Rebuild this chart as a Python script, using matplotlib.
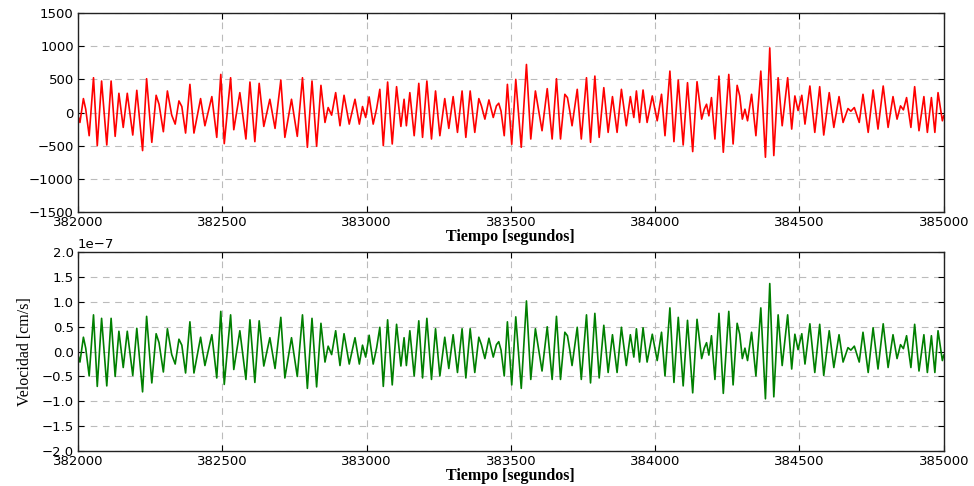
import numpy as np
import matplotlib
matplotlib.use("Agg")
import matplotlib.pyplot as plt

# ---- data (extrema of the waveform) ----
tiempo_1 = [382001, 382007, 382019, 382027, 382039, 382054, 382067, 382082, 382100, 382115, 382129, 382142,
            382157, 382171, 382190, 382204, 382224, 382238, 382256, 382271, 382281, 382296, 382310, 382325,
            382337, 382350, 382360, 382373, 382388, 382402, 382425, 382440, 382464, 382481, 382495, 382507]
senal_1 = [-60, -150, 210, 50, -350, 525, -500, 475, -490, 475, -360, 290, -225, 290, -340, 335, -575, 510,
           -450, 260, 125, -290, 325, -40, -175, 175, 90, -310, 425, -310, 210, -200, 240, -375, 575, -470]
veloc_1 = [-0.08, -0.21, 0.29, 0.07, -0.49, 0.74, -0.70, 0.67, -0.69, 0.67, -0.50, 0.41, -0.32, 0.41, -0.48,
           0.47, -0.81, 0.71, -0.63, 0.36, 0.18, -0.41, 0.46, -0.06, -0.25, 0.25, 0.13, -0.43, 0.60, -0.43,
           0.29, -0.28, 0.34, -0.53, 0.81, -0.66]

tiempo_2 = [382529, 382540, 382561, 382582, 382596, 382613, 382628, 382644, 382665, 382683, 382703, 382717,
            382740, 382760, 382778, 382795, 382811, 382827, 382842, 382856, 382867, 382879, 382893, 382908,
            382922, 382940, 382960, 382975, 382986, 382997, 383009]
senal_2 = [525, -260, 300, -400, 460, -440, 440, -210, 200, -240, 490, -375, 200, -360, 525, -525, 475, -510,
           410, -150, 75, -40, 300, -200, 260, -175, 200, -175, 90, -75, 235]
veloc_2 = [0.74, -0.36, 0.42, -0.56, 0.64, -0.62, 0.62, -0.29, 0.28, -0.34, 0.69, -0.53, 0.28, -0.50, 0.74,
           -0.74, 0.67, -0.71, 0.57, -0.21, 0.11, -0.06, 0.42, -0.28, 0.36, -0.25, 0.28, -0.25, 0.13, -0.11, 0.33]

tiempo_3 = [383023, 383035, 383046, 383058, 383073, 383089, 383104, 383119, 383130, 383138, 383150, 383165,
            383181, 383194, 383209, 383225, 383239, 383254, 383271, 383285, 383300, 383315, 383331, 383344,
            383359, 383375, 383389, 383398, 383410, 383424, 383439, 383450, 383458, 383466, 383477, 383488, 383503]
senal_3 = [-175, 60, 350, -500, 460, -475, 390, -210, 200, -200, 300, -350, 440, -375, 475, -400, 325, -350,
           210, -240, 240, -300, 325, -375, 325, -300, 210, 100, -100, 190, -75, 100, 140, 20, -350, 425, -480]
veloc_3 = [-0.25, 0.08, 0.49, -0.70, 0.64, -0.67, 0.55, -0.29, 0.28, -0.28, 0.42, -0.49, 0.62, -0.53, 0.67,
           -0.56, 0.46, -0.49, 0.29, -0.34, 0.34, -0.42, 0.46, -0.53, 0.46, -0.42, 0.29, 0.14, -0.14, 0.27,
           -0.11, 0.14, 0.20, 0.03, -0.49, 0.60, -0.67]

tiempo_4 = [383517, 383536, 383554, 383569, 383585, 383608, 383626, 383643, 383658, 383672, 383687, 383696,
            383704, 383712, 383730, 383744, 383762, 383776, 383791, 383806, 383822, 383837, 383852, 383868,
            383883, 383900, 383914, 383926, 383935, 383946, 383958, 383972, 383990, 384007]
senal_4 = [500, -525, 725, -400, 325, -275, 360, -400, 510, -400, 275, 225, 25, -200, 350, -400, 525, -450,
           550, -375, 375, -300, 240, -300, 350, -200, 240, -75, 325, -150, 340, -150, 250, -125]
veloc_4 = [0.70, -0.74, 1.02, -0.56, 0.46, -0.39, 0.50, -0.56, 0.71, -0.56, 0.39, 0.32, 0.04, -0.28, 0.49,
           -0.56, 0.74, -0.63, 0.77, -0.53, 0.53, -0.42, 0.34, -0.42, 0.49, -0.28, 0.34, -0.11, 0.46, -0.21,
           0.48, -0.21, 0.35, -0.18]

tiempo_5 = [384022, 384034, 384051, 384065, 384080, 384097, 384112, 384130, 384145, 384161, 384170, 384178,
            384186, 384195, 384207, 384221, 384236, 384255, 384270, 384284, 384293, 384302, 384311, 384320,
            384334, 384349, 384366, 384382, 384397, 384411, 384426, 384440, 384459, 384473, 384484, 384495,
            384508, 384519]
senal_5 = [275, -350, 625, -440, 490, -490, 450, -590, 465, -100, 50, 125, -50, 225, -400, 550, -600, 575,
           -475, 410, 250, -100, 50, -125, 275, -350, 625, -675, 975, -650, 525, -200, 525, -250, 250, 30,
           260, -175]
veloc_5 = [0.39, -0.49, 0.88, -0.62, 0.69, -0.69, 0.63, -0.83, 0.65, -0.14, 0.07, 0.18, -0.07, 0.32, -0.56,
           0.77, -0.84, 0.81, -0.67, 0.57, 0.35, -0.14, 0.07, -0.18, 0.39, -0.49, 0.88, -0.95, 1.37, -0.91,
           0.74, -0.28, 0.74, -0.35, 0.35, 0.04, 0.36, -0.25]

tiempo_6 = [384536, 384553, 384570, 384584, 384603, 384619, 384637, 384651, 384668, 384678, 384690, 384707,
            384720, 384738, 384755, 384772, 384790, 384807, 384824, 384838, 384850, 384860, 384871, 384886,
            384899, 384914, 384931, 384943, 384957, 384969, 384980, 384995, 385000]
senal_6 = [400, -300, 390, -340, 300, -225, 240, -150, 60, 20, 75, -150, 275, -300, 340, -250, 400, -225,
           240, -100, 100, 40, 225, -225, 390, -275, 240, -300, 225, -300, 300, -125, -50]
veloc_6 = [0.56, -0.42, 0.55, -0.48, 0.42, -0.32, 0.34, -0.21, 0.08, 0.03, 0.11, -0.21, 0.39, -0.42, 0.48,
           -0.35, 0.56, -0.32, 0.34, -0.14, 0.14, 0.06, 0.32, -0.32, 0.55, -0.39, 0.34, -0.42, 0.32, -0.42,
           0.42, -0.18, -0.07]

x_ticks = [382000, 382500, 383000, 383500, 384000, 384500, 385000]
y_ticks_top = [-1500, -1000, -500, 0, 500, 1000, 1500]
y_ticks_bot = [-2.0e-7, -1.5e-7, -1.0e-7, -0.5e-7, 0.0, 0.5e-7, 1.0e-7, 1.5e-7, 2.0e-7]

tiempo = np.concatenate([tiempo_1, tiempo_2, tiempo_3, tiempo_4, tiempo_5, tiempo_6])
senal = np.concatenate([senal_1, senal_2, senal_3, senal_4, senal_5, senal_6])
velocidad = np.concatenate([veloc_1, veloc_2, veloc_3, veloc_4, veloc_5, veloc_6]) * 1e-7

# ---- figure ----
fig = plt.figure(figsize=(9.74, 4.86), dpi=100)
ax1 = fig.add_axes([0.080, 0.564, 0.889, 0.409])
ax2 = fig.add_axes([0.080, 0.072, 0.889, 0.409])

serif = ["Liberation Serif", "DejaVu Serif"]

ax1.plot(tiempo, senal, color="#ff0000", lw=1.2, solid_joinstyle="round")
ax2.plot(tiempo, velocidad, color="#007f00", lw=1.2, solid_joinstyle="round")

for ax in (ax1, ax2):
    ax.set_xlim(382000, 385000)
    ax.set_xticks(x_ticks)
    ax.grid(True, color="#bbbbbb", linestyle=(0, (6, 5)), lw=0.8)
    ax.tick_params(direction="in", top=True, right=True, labelsize=9.5, length=4, pad=3)
    for s in ax.spines.values():
        s.set_color("#222222")
        s.set_linewidth(1.0)
    ax.set_xlabel("Tiempo [segundos]", fontfamily=serif, fontweight="bold", fontsize=11.5, labelpad=0)

ax1.set_ylim(-1500, 1500)
ax1.set_yticks(y_ticks_top)
ax2.set_ylim(-2.0e-7, 2.0e-7)
ax2.set_yticks(y_ticks_bot)
ax2.yaxis.get_offset_text().set_fontsize(9.5)
ax2.set_ylabel("Velocidad [cm/s]", fontfamily=serif, fontsize=11.5, labelpad=6)

fig.savefig("out.png", dpi=100)
